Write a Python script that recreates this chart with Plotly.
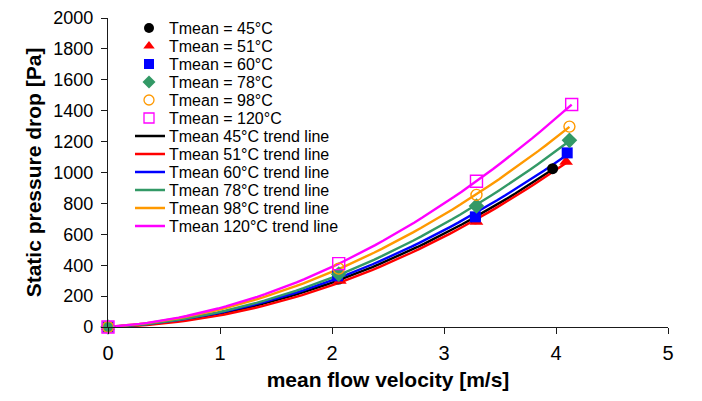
import numpy as np
import plotly.graph_objects as go

# ---------------- data ----------------
series_names = ["Tmean = 45°C", "Tmean = 51°C", "Tmean = 60°C",
                "Tmean = 78°C", "Tmean = 98°C", "Tmean = 120°C"]
trend_names = ["Tmean 45°C trend line", "Tmean 51°C trend line", "Tmean 60°C trend line",
               "Tmean 78°C trend line", "Tmean 98°C trend line", "Tmean 120°C trend line"]

v_45 = [0, 2.06, 3.28, 3.97]
dp_45 = [0, 310, 700, 1025]
v_51 = [0, 2.07, 3.29, 4.09]
dp_51 = [0, 299, 681, 1070]
v_60 = [0, 2.05, 3.28, 4.10]
dp_60 = [0, 331, 713, 1127]
v_78 = [0, 2.06, 3.29, 4.12]
dp_78 = [0, 342, 783, 1208]
v_98 = [0, 2.06, 3.29, 4.12]
dp_98 = [0, 378, 855, 1297]
v_120 = [0, 2.06, 3.29, 4.14]
dp_120 = [0, 410, 943, 1440]

x_ticks = [0, 1, 2, 3, 4, 5]
y_ticks = [0, 200, 400, 600, 800, 1000, 1200, 1400, 1600, 1800, 2000]

velocities = [v_45, v_51, v_60, v_78, v_98, v_120]
pressures = [dp_45, dp_51, dp_60, dp_78, dp_98, dp_120]

# ---------------- styles ----------------
colors = ["#000000", "#FF0000", "#0000FF", "#339966", "#FF9900", "#FF00FF"]
symbols = ["circle", "triangle-up", "square", "diamond", "circle-open", "square-open"]
msizes = [11, 12, 11, 12, 11, 12]
FONT = "Liberation Sans, Arial, sans-serif"

fig = go.Figure()

# trend lines: quadratic least-squares fit through the origin (as the spreadsheet trend line)
for v, dp, c, name in zip(velocities, pressures, colors, trend_names):
    v_arr = np.asarray(v, dtype=float)
    dp_arr = np.asarray(dp, dtype=float)
    A = np.column_stack([v_arr, v_arr ** 2])
    coef, *_ = np.linalg.lstsq(A, dp_arr, rcond=None)
    xs = np.linspace(0, v_arr.max(), 60)
    ys = coef[0] * xs + coef[1] * xs ** 2
    fig.add_trace(go.Scatter(x=xs, y=ys, mode="lines", name=name,
                             line=dict(color=c, width=2.4), showlegend=False,
                             hoverinfo="skip"))

# measured points
for v, dp, c, s, ms, name in zip(velocities, pressures, colors, symbols, msizes, series_names):
    open_sym = s.endswith("open")
    fig.add_trace(go.Scatter(
        x=v, y=dp, mode="markers", name=name, showlegend=False, cliponaxis=False,
        marker=dict(symbol=s, size=ms, color=c,
                    line=dict(color=c, width=1.4 if open_sym else 0))))

# ---------------- hand-drawn legend (page-pixel coordinates on overlay axes) ----------------
PLOT_X0, PLOT_X1, PLOT_Y0, PLOT_Y1 = 108, 668, 18, 327   # page pixels of the plot area
leg_row0, leg_dy = 28, 18.0
leg_marker_x, leg_line_x0, leg_line_x1, leg_text_x = 149, 135, 165, 168
LEG_FONT = 16
for i, (c, s, name) in enumerate(zip(colors, symbols, series_names)):
    yy = leg_row0 + leg_dy * i
    open_sym = s.endswith("open")
    fig.add_trace(go.Scatter(
        x=[leg_marker_x], y=[yy], xaxis="x2", yaxis="y2", mode="markers",
        showlegend=False, hoverinfo="skip", cliponaxis=False,
        marker=dict(symbol=s, size=10, color=c,
                    line=dict(color=c, width=1.3 if open_sym else 0))))
    fig.add_annotation(x=leg_text_x, y=yy, xref="x2", yref="y2", text=name,
                       showarrow=False, xanchor="left", yanchor="middle",
                       borderpad=0,
                       font=dict(family=FONT, size=LEG_FONT, color="#000000"))
for j, (c, name) in enumerate(zip(colors, trend_names)):
    yy = leg_row0 + leg_dy * (6 + j)
    fig.add_shape(type="line", x0=leg_line_x0, x1=leg_line_x1, y0=yy, y1=yy,
                  xref="x2", yref="y2", line=dict(color=c, width=2.5))
    fig.add_annotation(x=leg_text_x, y=yy, xref="x2", yref="y2", text=name,
                       showarrow=False, xanchor="left", yanchor="middle",
                       borderpad=0,
                       font=dict(family=FONT, size=LEG_FONT, color="#000000"))

axis_common = dict(showgrid=False, zeroline=False, showline=True, linecolor="#1a1a1a",
                   linewidth=1.3, ticks="outside", ticklen=6, tickwidth=1.3,
                   tickcolor="#1a1a1a", mirror=False, ticklabeloverflow="allow")

# the page body adds an 8 px offset: figure is 694x393 so the plot area lands on
# the wanted page pixels
FIG_W, FIG_H, PAGE_OFF = 694, 393, 8
fig.update_layout(
    width=FIG_W, height=FIG_H,
    margin=dict(l=PLOT_X0 - PAGE_OFF, r=FIG_W - (PLOT_X1 - PAGE_OFF),
                t=PLOT_Y0 - PAGE_OFF, b=FIG_H - (PLOT_Y1 - PAGE_OFF),
                pad=0, autoexpand=False),
    paper_bgcolor="white", plot_bgcolor="white",
    font=dict(family=FONT, color="#000000"),
    showlegend=False,
    xaxis=dict(range=[0, 5], tickvals=x_ticks, ticktext=[str(t) for t in x_ticks],
               tickfont=dict(family=FONT, size=20), ticklabelstandoff=2,
               title=dict(text="mean flow velocity [m/s]", standoff=9,
                          font=dict(family=FONT, size=21, weight="bold")),
               **axis_common),
    yaxis=dict(range=[0, 2000], tickvals=y_ticks, ticktext=[str(t) for t in y_ticks],
               tickfont=dict(family=FONT, size=18), ticklabelstandoff=4,
               title=dict(text="Static pressure drop [Pa]", standoff=5,
                          font=dict(family=FONT, size=21, weight="bold")),
               **axis_common),
    xaxis2=dict(overlaying="x", range=[PLOT_X0, PLOT_X1], visible=False, showgrid=False),
    yaxis2=dict(overlaying="y", range=[PLOT_Y1, PLOT_Y0], visible=False, showgrid=False),
)

fig.write_html("out.html")
